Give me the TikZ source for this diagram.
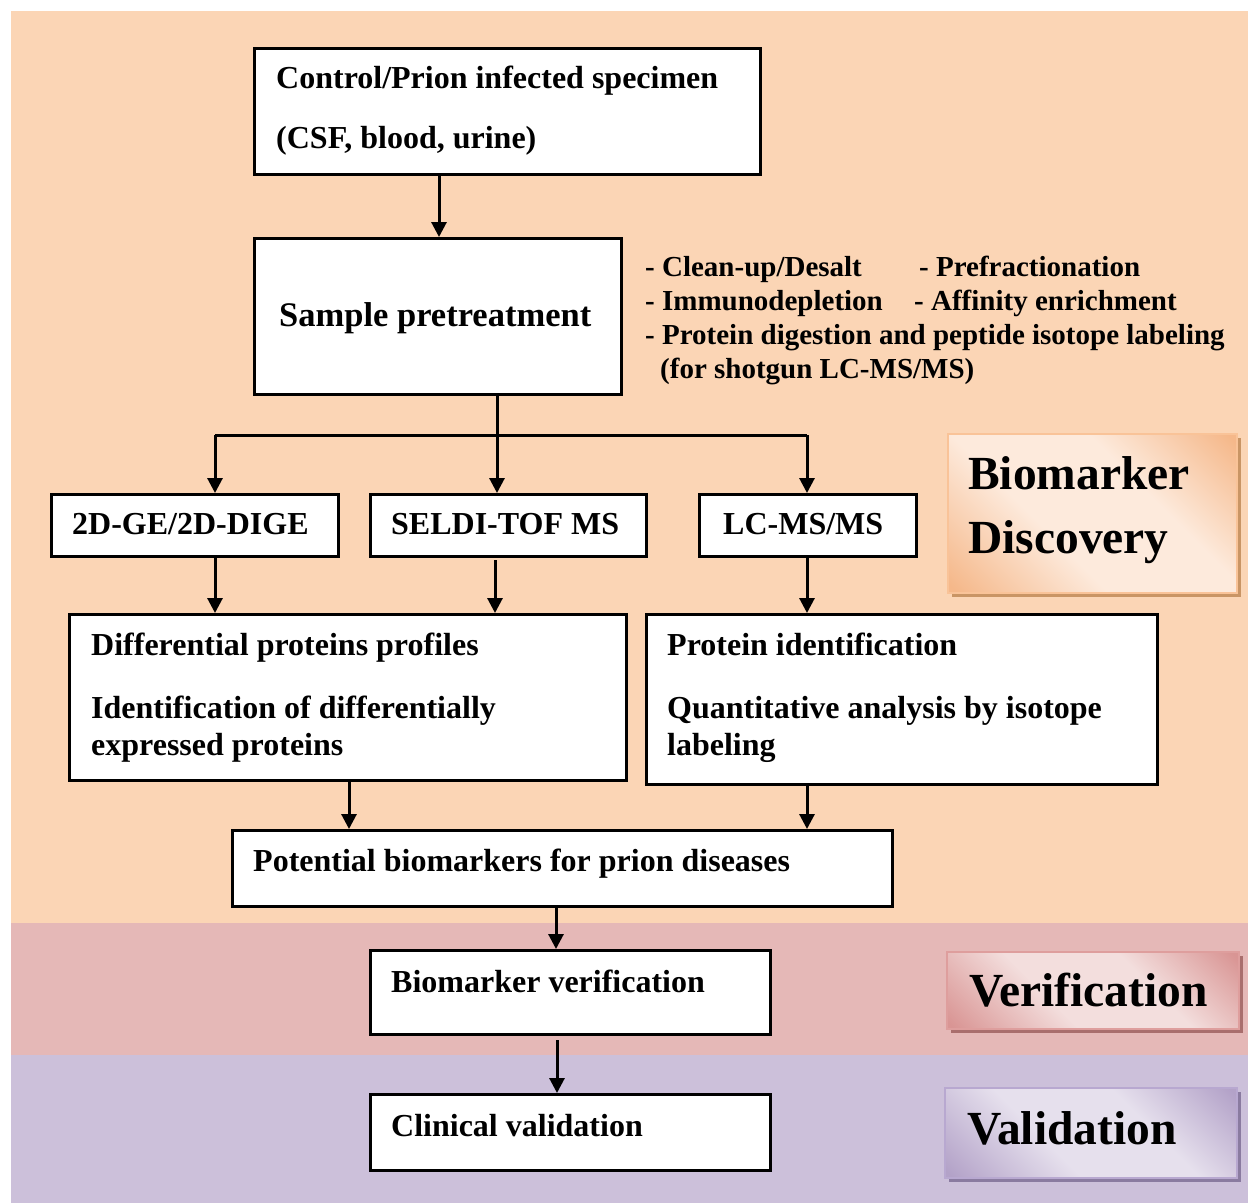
\documentclass[tikz,border=0pt]{standalone}
\usepackage{fontspec}
\setmainfont{Liberation Serif}
\usetikzlibrary{arrows.meta,calc,shadows}
\definecolor{peach}{HTML}{FBD5B5}
\definecolor{rose}{HTML}{E5B8B7}
\definecolor{lav}{HTML}{CCC0DA}
\definecolor{discdark}{HTML}{F5B88A}
\definecolor{disclight}{HTML}{FDEADC}
\definecolor{discborder}{HTML}{F9C398}
\definecolor{discshadow}{HTML}{C99565}
\definecolor{verdark}{HTML}{D99594}
\definecolor{verlight}{HTML}{F3DEDD}
\definecolor{verborder}{HTML}{DE9E9D}
\definecolor{vershadow}{HTML}{A96E6D}
\definecolor{valdark}{HTML}{B3A2C8}
\definecolor{vallight}{HTML}{E6E0ED}
\definecolor{valborder}{HTML}{B8A8D0}
\definecolor{valshadow}{HTML}{8A7BA0}
\pgfdeclarehorizontalshading{discshade}{100bp}{color(0bp)=(discdark); color(16bp)=(discdark); color(40bp)=(disclight); color(62bp)=(disclight); color(84bp)=(discdark); color(100bp)=(discdark)}
\pgfdeclarehorizontalshading{vershade}{100bp}{color(0bp)=(verdark); color(16bp)=(verdark); color(40bp)=(verlight); color(62bp)=(verlight); color(84bp)=(verdark); color(100bp)=(verdark)}
\pgfdeclarehorizontalshading{valshade}{100bp}{color(0bp)=(valdark); color(16bp)=(valdark); color(40bp)=(vallight); color(62bp)=(vallight); color(84bp)=(valdark); color(100bp)=(valdark)}
\tikzset{
  box/.style={draw=black, line width=3pt, fill=white, inner sep=0pt, anchor=north west},
  txt/.style={anchor=base west, inner sep=0pt, font=\fontsize{32}{38}\selectfont\bfseries},
  bigtxt/.style={anchor=base west, inner sep=0pt, font=\fontsize{34.5}{40}\selectfont\bfseries},
  listtxt/.style={anchor=base west, inner sep=0pt, font=\fontsize{29}{34}\selectfont\bfseries},
  labtxt/.style={anchor=base west, inner sep=0pt, font=\fontsize{47.5}{56}\selectfont\bfseries},
  arr/.style={line width=3pt, -{Triangle[width=15pt,length=15pt]}},
  plain/.style={line width=3pt},
  label box/.style={anchor=north west, inner sep=0pt, line width=1.5pt, shading angle=45},
}
\begin{document}
\begin{tikzpicture}[x=1pt,y=-1pt]
\useasboundingbox (0,0) rectangle (1248,1203);
\fill[white] (0,0) rectangle (1248,1203);
% bands
\fill[peach] (11,11) rectangle (1248,923);
\fill[rose] (11,923) rectangle (1248,1055);
\fill[lav] (11,1055) rectangle (1248,1203);

% side labels
\node[label box, draw=discborder, shading=discshade, minimum width=289pt, minimum height=159pt,
  drop shadow={shadow xshift=4pt, shadow yshift=-4pt, fill=discshadow, opacity=1}] (disc) at (947,433) {};
\node[labtxt] (disc1) at (968,489) {Biomarker};
\node[labtxt] (disc2) at (968,553) {Discovery};
\node[label box, draw=verborder, shading=vershade, minimum width=292pt, minimum height=77pt,
  drop shadow={shadow xshift=4pt, shadow yshift=-4pt, fill=vershadow, opacity=1}] (verl) at (946,951) {};
\node[labtxt] (verltxt) at (969,1006) {Verification};
\node[label box, draw=valborder, shading=valshade, minimum width=292pt, minimum height=90pt,
  drop shadow={shadow xshift=4pt, shadow yshift=-4pt, fill=valshadow, opacity=1}] (vall) at (944,1087) {};
\node[labtxt] (valltxt) at (967,1144) {Validation};

% boxes
\node[box, minimum width=506pt, minimum height=126pt] (ctrl) at (253,47) {};
\node[txt] (ctrl1) at (276,88) {Control/Prion infected specimen};
\node[txt] (ctrl2) at (276,148) {(CSF, blood, urine)};

\node[box, minimum width=367pt, minimum height=156pt] (samp) at (253,237) {};
\node[bigtxt] (samptxt) at (279,326) {Sample pretreatment};

\node[listtxt] (l1a) at (645,276) {- Clean-up/Desalt};
\node[listtxt] (l1b) at (919,276) {- Prefractionation};
\node[listtxt] (l2a) at (645,310) {- Immunodepletion};
\node[listtxt] (l2b) at (914,310) {- Affinity enrichment};
\node[listtxt] (l3) at (645,344) {- Protein digestion and peptide isotope labeling};
\node[listtxt] (l4) at (660,378) {(for shotgun LC-MS/MS)};

\node[box, minimum width=287pt, minimum height=62pt] (ge) at (50,493) {};
\node[txt] (getxt) at (72,534) {2D-GE/2D-DIGE};
\node[box, minimum width=276pt, minimum height=62pt] (seldi) at (369,493) {};
\node[txt] (selditxt) at (391,534) {SELDI-TOF MS};
\node[box, minimum width=217pt, minimum height=62pt] (lc) at (698,493) {};
\node[txt] (lctxt) at (723,534) {LC-MS/MS};

\node[box, minimum width=557pt, minimum height=166pt] (diff) at (68,613) {};
\node[txt] (diff1) at (91,655) {Differential proteins profiles};
\node[txt] (diff2) at (91,718) {Identification of differentially};
\node[txt] (diff3) at (91,755) {expressed proteins};

\node[box, minimum width=511pt, minimum height=170pt] (prot) at (645,613) {};
\node[txt] (prot1) at (667,655) {Protein identification};
\node[txt] (prot2) at (667,718) {Quantitative analysis by isotope};
\node[txt] (prot3) at (667,755) {labeling};

\node[box, minimum width=660pt, minimum height=76pt] (pot) at (231,829) {};
\node[txt] (pottxt) at (253,871) {Potential biomarkers for prion diseases};

\node[box, minimum width=400pt, minimum height=84pt] (ver) at (369,949) {};
\node[txt] (vertxt) at (391,992) {Biomarker verification};

\node[box, minimum width=400pt, minimum height=76pt] (clin) at (369,1093) {};
\node[txt] (clintxt) at (391,1136) {Clinical validation};

% connector coordinates
\coordinate (c0) at (439,0);
\coordinate (split) at (497,435);
\coordinate (jl) at (215,435);
\coordinate (jr) at (807,435);
\coordinate (xs) at (495,560);
\coordinate (xd) at (349,0);
\coordinate (xp) at (807,0);
\coordinate (xv) at (556,0);
\coordinate (xc) at (557,1040);

% connectors
\draw[arr] (ctrl.south -| c0) -- (samp.north -| c0);
\draw[plain] (samp.south -| split) -- (split);
\draw[plain] (jl) -- (jr);
\draw[arr] (jl) -- (ge.north -| jl);
\draw[arr] (split) -- (seldi.north -| split);
\draw[arr] (jr) -- (lc.north -| jr);
\draw[arr] (ge.south -| jl) -- (diff.north -| jl);
\draw[arr] (xs) -- (diff.north -| xs);
\draw[arr] (lc.south -| jr) -- (prot.north -| jr);
\draw[arr] (diff.south -| xd) -- (pot.north -| xd);
\draw[arr] (prot.south -| xp) -- (pot.north -| xp);
\draw[arr] (pot.south -| xv) -- (ver.north -| xv);
\draw[arr] (xc) -- (clin.north -| xc);
\end{tikzpicture}
\end{document}
